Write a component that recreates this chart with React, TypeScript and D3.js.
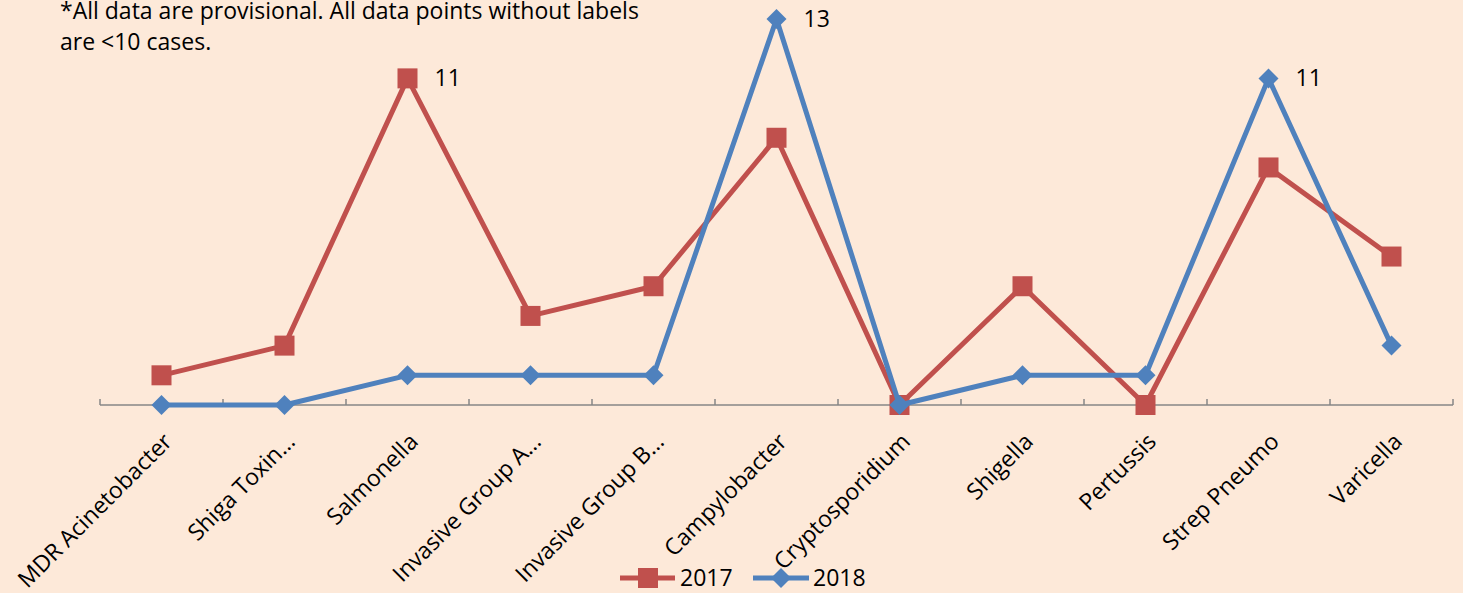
import React from "react";
import * as d3 from "d3";

const categories = [
  "MDR Acinetobacter",
  "Shiga Toxin…",
  "Salmonella",
  "Invasive Group A…",
  "Invasive Group B…",
  "Campylobacter",
  "Cryptosporidium",
  "Shigella",
  "Pertussis",
  "Strep Pneumo",
  "Varicella",
];
const cases2017 = [1, 2, 11, 3, 4, 9, 0, 4, 0, 8, 5];
const cases2018 = [0, 0, 1, 1, 1, 13, 0, 1, 1, 11, 2];
// only points >= 10 get a label
const labelMin = 10;

const RED = "#C0504D";
const BLUE = "#4F81BD";
const FONT = "'Open Sans', sans-serif";
const FS = 23;

const App = () => {
  const width = 1463;
  const height = 593;
  const MARGIN = { LEFT: 100, RIGHT: 10, TOP: 19, AXIS: 405 };

  const x = d3
    .scaleBand()
    .domain(categories)
    .range([MARGIN.LEFT, width - MARGIN.RIGHT])
    .padding(0);

  const y = d3.scaleLinear().domain([0, 13]).range([MARGIN.AXIS, MARGIN.TOP]);

  const cx = (c: string) => (x(c) || 0) + x.bandwidth() / 2;

  const line = d3
    .line<number>()
    .x((_, i) => cx(categories[i]))
    .y((d) => y(d));

  const ticks = d3.range(categories.length + 1).map((i) => MARGIN.LEFT + i * x.bandwidth());

  const square = (px: number, py: number, s: number, key: string) => (
    <rect key={key} x={px - s / 2} y={py - s / 2} width={s} height={s} fill={RED} />
  );
  const diamond = (px: number, py: number, r: number, key: string) => (
    <path
      key={key}
      d={`M${px},${py - r}L${px + r},${py}L${px},${py + r}L${px - r},${py}Z`}
      fill={BLUE}
    />
  );

  return (
    <svg
      width={width}
      height={height}
      style={{ position: "absolute", left: 0, top: 0, background: "#FDE9D9" }}
      fontFamily={FONT}
    >
      <rect width={width} height={height} fill="#FDE9D9" />
      <text x={60} y={19} fontSize={FS} fill="#000">
        *All data are provisional. All data points without labels
      </text>
      <text x={60} y={50} fontSize={FS} fill="#000">
        are &lt;10 cases.
      </text>

      {/* axis */}
      <line
        x1={MARGIN.LEFT}
        x2={width - MARGIN.RIGHT}
        y1={MARGIN.AXIS}
        y2={MARGIN.AXIS}
        stroke="#868686"
        strokeWidth={1.5}
      />
      {ticks.map((t, i) => (
        <line key={i} x1={t} x2={t} y1={MARGIN.AXIS} y2={MARGIN.AXIS - 6} stroke="#868686" strokeWidth={1.5} />
      ))}
      {categories.map((c) => (
        <text
          key={c}
          transform={`translate(${cx(c) + 12},${MARGIN.AXIS + 38}) rotate(-45)`}
          textAnchor="end"
          fontSize={FS}
          fill="#000"
        >
          {c}
        </text>
      ))}

      {/* 2017 */}
      <path d={line(cases2017) || ""} fill="none" stroke={RED} strokeWidth={5} strokeLinejoin="round" />
      {cases2017.map((v, i) => square(cx(categories[i]), y(v), 20, "a" + i))}

      {/* 2018 */}
      <path d={line(cases2018) || ""} fill="none" stroke={BLUE} strokeWidth={5} strokeLinejoin="round" />
      {cases2018.map((v, i) => diamond(cx(categories[i]), y(v), 10, "b" + i))}

      {/* data labels */}
      {cases2017.map((v, i) =>
        v >= labelMin ? (
          <text key={"la" + i} x={cx(categories[i]) + 27} y={y(v)} dy="0.35em" fontSize={FS}>
            {v}
          </text>
        ) : null
      )}
      {cases2018.map((v, i) =>
        v >= labelMin ? (
          <text key={"lb" + i} x={cx(categories[i]) + 27} y={y(v)} dy="0.35em" fontSize={FS}>
            {v}
          </text>
        ) : null
      )}

      {/* legend */}
      <g transform="translate(620,578)">
        <line x1={0} x2={55} y1={0} y2={0} stroke={RED} strokeWidth={5} />
        {square(28, 0, 20, "ls")}
        <text x={60} y={0} dy="0.35em" fontSize={FS}>
          2017
        </text>
      </g>
      <g transform="translate(753,578)">
        <line x1={0} x2={56} y1={0} y2={0} stroke={BLUE} strokeWidth={5} />
        {diamond(28, 0, 10, "ld")}
        <text x={60} y={0} dy="0.35em" fontSize={FS}>
          2018
        </text>
      </g>
    </svg>
  );
};

export default App;
